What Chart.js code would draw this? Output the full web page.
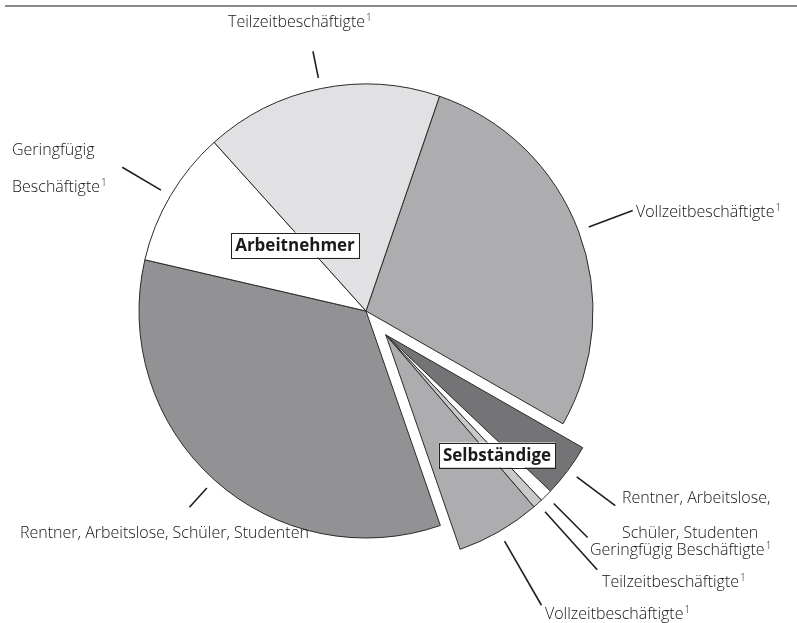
<!DOCTYPE html>
<html><head><meta charset="utf-8">
<script src="https://cdn.jsdelivr.net/npm/chart.js@4/dist/chart.umd.min.js"></script>
<style>html,body{margin:0;padding:0;background:#fff}#wrap{width:797px;height:623px;position:relative}</style>
</head><body><div id="wrap"><canvas id="c"></canvas></div>
<script>
// ---- data (clockwise order, starting at the top-right boundary) ----
const categories = ['Vollzeitbeschäftigte','Rentner, Arbeitslose, Schüler, Studenten','Geringfügig Beschäftigte','Teilzeitbeschäftigte','Vollzeitbeschäftigte','Rentner, Arbeitslose, Schüler, Studenten','Geringfügig Beschäftigte','Teilzeitbeschäftigte'];
const groups = ['Arbeitnehmer','Selbständige','Selbständige','Selbständige','Selbständige','Arbeitnehmer','Arbeitnehmer','Arbeitnehmer'];
const shares = [28.0, 3.8, 0.9, 0.7, 6.0, 33.9, 9.7, 16.9];
const footnote = [true, false, true, true, true, false, true, true];
const groupNames = ['Arbeitnehmer','Selbständige'];

// ---- styles / layout ----
const colors = ['#adadb0','#747477','#ffffff','#c9c9cb','#adadb0','#929295','#ffffff','#e1e1e3'];
const labelLayout = [
  {len:47, rows:[[636,217]]},
  {len:48, rows:[[622,503],[622,538]], brk:2},
  {len:48, rows:[[590,555]]},
  {len:78, rows:[[602,587]]},
  {len:74, rows:[[545,619]]},
  {len:26, rows:[[20,538]]},
  {len:45, rows:[[12,155],[12,192]], brk:1},
  {len:27, rows:[[228,27]]}
];
const groupBoxes = {'Arbeitnehmer':[295,245], 'Selbständige':[497,455]};
const FONT = '300 16px "Open Sans", "Noto Sans", sans-serif';
const SUPFONT = '300 10px "Open Sans", "Noto Sans", sans-serif';
const BOLD = 'bold 17px "Open Sans", "Noto Sans", sans-serif';
const TXT = '#141414';

const explodePlugin = {
  id:'explode',
  beforeDatasetsDraw(chart){
    const meta = chart.getDatasetMeta(0);
    const ca = chart.chartArea;
    const cx = (ca.left+ca.right)/2, cy = (ca.top+ca.bottom)/2;
    const idx = groups.map((g,i)=>g==='Selbständige'?i:-1).filter(i=>i>=0);
    let s=Infinity,e=-Infinity;
    idx.forEach(i=>{const a=meta.data[i]; s=Math.min(s,a.startAngle); e=Math.max(e,a.endAngle);});
    const mid=(s+e)/2, d=31;
    idx.forEach(i=>{const a=meta.data[i]; a.x = cx+Math.cos(mid)*d; a.y = cy+Math.sin(mid)*d;});
  }
};

function drawText(ctx, txt, x, y, sup){
  ctx.font = FONT; ctx.fillStyle = TXT; ctx.textAlign='left'; ctx.textBaseline='alphabetic';
  ctx.fillText(txt, x, y);
  if(sup){
    const w = ctx.measureText(txt).width;
    ctx.font = SUPFONT;
    ctx.fillText('1', x+w+1, y-6);
  }
}

const labelPlugin = {
  id:'labels',
  afterDraw(chart){
    const ctx = chart.ctx;
    const meta = chart.getDatasetMeta(0);
    ctx.save();
    // top rule
    ctx.strokeStyle='#8a8a8a'; ctx.lineWidth=2;
    ctx.beginPath(); ctx.moveTo(5,6); ctx.lineTo(797,6); ctx.stroke();
    meta.data.forEach((a,i)=>{
      const L = labelLayout[i];
      const mid = (a.startAngle+a.endAngle)/2;
      const r = a.outerRadius;
      ctx.strokeStyle='#1e1e1e'; ctx.lineWidth=1.6;
      ctx.beginPath();
      ctx.moveTo(a.x+Math.cos(mid)*(r+11), a.y+Math.sin(mid)*(r+11));
      ctx.lineTo(a.x+Math.cos(mid)*(r+11+L.len), a.y+Math.sin(mid)*(r+11+L.len));
      ctx.stroke();
      const words = categories[i].split(' ');
      let rowsTxt = [categories[i]];
      if(L.rows.length===2){ rowsTxt=[words.slice(0,L.brk).join(' '), words.slice(L.brk).join(' ')]; }
      rowsTxt.forEach((t,k)=>{
        drawText(ctx, t, L.rows[k][0], L.rows[k][1], footnote[i] && k===rowsTxt.length-1);
      });
    });
    // group boxes
    groupNames.forEach(g=>{
      const [cx,cy] = groupBoxes[g];
      ctx.font = BOLD;
      const w = ctx.measureText(g).width + 8, h = 25;
      ctx.fillStyle='#fff'; ctx.fillRect(cx-w/2, cy-h/2, w, h);
      ctx.strokeStyle='#222'; ctx.lineWidth=1;
      ctx.strokeRect(Math.round(cx-w/2)+0.5, Math.round(cy-h/2)+0.5, Math.round(w), h);
      ctx.fillStyle='#1a1a1a'; ctx.textAlign='center'; ctx.textBaseline='middle';
      ctx.fillText(g, cx, cy+1);
    });
    ctx.restore();
  }
};

new Chart(document.getElementById('c'), {
  type:'pie',
  data:{
    labels: categories,
    datasets:[{
      data: shares,
      backgroundColor: colors,
      borderColor:'#2a2a2a',
      borderWidth:1,
      radius:227,
      clip:false
    }]
  },
  options:{
    responsive:true, maintainAspectRatio:false,
    animation:false, events:[],
    rotation:18.9,
    layout:{padding:{left:0,right:65,top:0,bottom:1}},
    plugins:{legend:{display:false}, tooltip:{enabled:false}}
  },
  plugins:[explodePlugin,labelPlugin]
});
</script></body></html>
